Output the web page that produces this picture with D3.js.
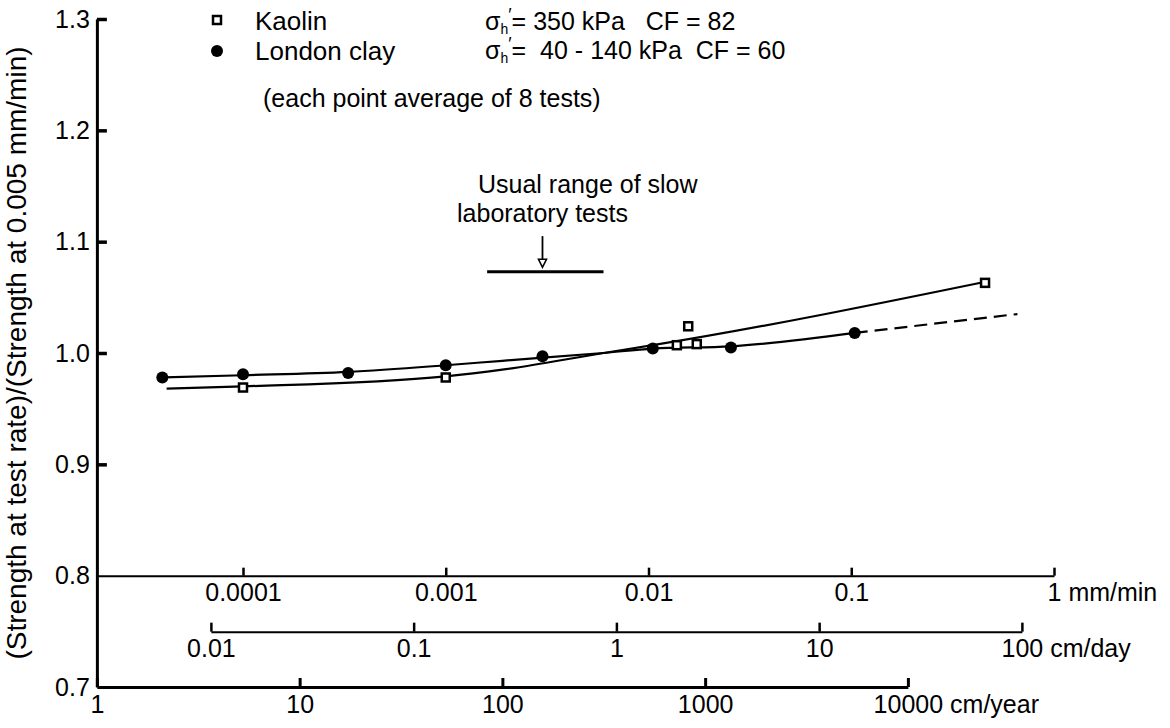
<!DOCTYPE html>
<html>
<head>
<meta charset="utf-8">
<script src="https://cdn.jsdelivr.net/npm/d3@7"></script>
<style>
  body { margin: 0; background: #fff; }
  svg text { font-family: "Liberation Sans", Arial, sans-serif; fill: #000; }
</style>
</head>
<body>
<svg id="chart" width="1170" height="728"></svg>
<script>
/* ---- data (rate in mm/min, ratio of strengths) ------------------------ */
const kaolinRate   = [1e-4, 1e-3, 0.0138, 0.0157, 0.0173, 0.457];
const kaolinRatio  = [0.969, 0.978, 1.007, 1.024, 1.008, 1.063];
const londonRate   = [4.0e-5, 1e-4, 3.3e-4, 1e-3, 3.0e-3, 0.0105, 0.0255, 0.104];
const londonRatio  = [0.978, 0.981, 0.982, 0.989, 0.997, 1.004, 1.005, 1.018];

// hand drawn trend lines
const kaolinFitRate  = [4.2e-5, 1e-4, 1e-3, 0.0019, 0.006, 0.0105, 0.46];
const kaolinFitRatio = [0.968, 0.970, 0.979, 0.985, 1.0, 1.007, 1.064];
const londonFitRate  = [4.0e-5, 1e-4, 3.3e-4, 1e-3, 0.0019, 0.006, 0.0105, 0.0255, 0.104];
const londonFitRatio = [0.978, 0.980, 0.983, 0.989, 0.993, 1.0, 1.004, 1.006, 1.018];
const londonExtRate  = [0.104, 0.66];
const londonExtRatio = [1.018, 1.035];

// usual range of slow laboratory tests
const slowRange  = [0.0016, 0.006];
const slowLevel  = 1.073;
const slowArrow  = {rate: 0.003, from: 1.105, to: 1.077};

// ticks
const yTicks    = [0.7, 0.8, 0.9, 1.0, 1.1, 1.2, 1.3];
const mmTicks   = [1e-4, 1e-3, 1e-2, 1e-1, 1];
const dayTicks  = [0.01, 0.1, 1, 10, 100];
const yearTicks = [1, 10, 100, 1000, 10000];

const CM_DAY  = 144;     // 1 mm/min = 144 cm/day
const CM_YEAR = 52560;   // 1 mm/min = 52560 cm/year

/* ---- scales ----------------------------------------------------------- */
const svg = d3.select('#chart');
const x = d3.scaleLog().domain([1e-4, 1]).range([243, 1054]);
const y = d3.scaleLinear().domain([0.7, 1.3]).range([687, 19]);

const xLeft = 1 / CM_YEAR;   // axis origin = 1 cm/year
const xmm   = x.copy().domain([xLeft, 1]).range([x(xLeft), x(1)]);
const xday  = d3.scaleLog().domain([0.01, 100]).range([x(0.01 / CM_DAY), x(100 / CM_DAY)]);
const xyear = d3.scaleLog().domain([1, 10000]).range([x(1 / CM_YEAR), x(10000 / CM_YEAR)]);

const FS = 25;

/* ---- axes ------------------------------------------------------------- */
function styleAxis(g, w) {
  g.attr('font-size', null).attr('font-family', null);
  g.selectAll('text').style('font-size', FS + 'px');
  g.select('.domain').attr('stroke-width', w);
  g.selectAll('.tick line').attr('stroke-width', 2.5);
}
function unitLabel(g, unit) {
  const t = g.selectAll('.tick text').filter((d, i, n) => i === n.length - 1);
  const w = t.node().getComputedTextLength();
  t.attr('text-anchor', 'start').attr('x', -w / 2).text(t.text() + ' ' + unit);
}

const gMm = svg.append('g').attr('transform', `translate(0,${y(0.8)})`)
  .call(d3.axisBottom(xmm).tickValues(mmTicks).tickFormat(String)
    .tickSizeInner(-8).tickSizeOuter(0).tickPadding(8));
styleAxis(gMm, 2);
unitLabel(gMm, 'mm/min');

const gDay = svg.append('g').attr('transform', `translate(0,${y(0.8) + 56})`)
  .call(d3.axisBottom(xday).tickValues(dayTicks).tickFormat(String)
    .tickSizeInner(-9).tickSizeOuter(0).tickPadding(8));
styleAxis(gDay, 2);
unitLabel(gDay, 'cm/day');

const gYear = svg.append('g').attr('transform', `translate(0,${y(0.7)})`)
  .call(d3.axisBottom(xyear).tickValues(yearTicks).tickFormat(String)
    .tickSizeInner(-9).tickSizeOuter(0).tickPadding(8));
styleAxis(gYear, 3);
gYear.selectAll('.tick line').attr('stroke-width', 3);
unitLabel(gYear, 'cm/year');

const gY = svg.append('g').attr('transform', `translate(${x(xLeft)},0)`)
  .call(d3.axisLeft(y).tickValues(yTicks).tickFormat(d3.format('.1f'))
    .tickSizeInner(-10).tickSizeOuter(0).tickPadding(7));
styleAxis(gY, 3);
gY.selectAll('.tick line').attr('stroke-width', 3.5).filter(d => d < 0.85).remove();

svg.append('text')
  .attr('transform', `translate(26,${(y(0.7) + y(1.3)) / 2}) rotate(-90)`)
  .attr('text-anchor', 'middle')
  .style('font-size', '28px')
  .text('(Strength at test rate)/(Strength at 0.005 mm/min)');

/* ---- trend lines ------------------------------------------------------ */
const line = d3.line().x(d => x(d[0])).y(d => y(d[1])).curve(d3.curveMonotoneX);
const plot = svg.append('g').attr('fill', 'none').attr('stroke', '#000').attr('stroke-width', 2.2);
plot.append('path').attr('d', line(d3.zip(kaolinFitRate, kaolinFitRatio)));
plot.append('path').attr('d', line(d3.zip(londonFitRate, londonFitRatio)));
plot.append('path').attr('d', line(d3.zip(londonExtRate, londonExtRatio)))
  .attr('stroke-dasharray', '13,7');

/* ---- points ----------------------------------------------------------- */
const SQ = 8;
svg.append('g').selectAll('circle')
  .data(d3.zip(londonRate, londonRatio)).join('circle')
    .attr('cx', d => x(d[0])).attr('cy', d => y(d[1])).attr('r', 6)
    .attr('fill', '#000');
svg.append('g').selectAll('rect')
  .data(d3.zip(kaolinRate, kaolinRatio)).join('rect')
    .attr('x', d => x(d[0]) - SQ / 2).attr('y', d => y(d[1]) - SQ / 2)
    .attr('width', SQ).attr('height', SQ)
    .attr('fill', '#fff').attr('stroke', '#000').attr('stroke-width', 2.5);

/* ---- slow test range -------------------------------------------------- */
svg.append('line')
  .attr('x1', x(slowRange[0])).attr('x2', x(slowRange[1]))
  .attr('y1', y(slowLevel)).attr('y2', y(slowLevel))
  .attr('stroke', '#000').attr('stroke-width', 3);
const ax = x(slowArrow.rate), ay0 = y(slowArrow.from), ay1 = y(slowArrow.to);
svg.append('line').attr('x1', ax).attr('x2', ax).attr('y1', ay0).attr('y2', ay1 - 4)
  .attr('stroke', '#000').attr('stroke-width', 1.8);
svg.append('path')
  .attr('d', `M${ax - 4},${ay1 - 8}L${ax + 4},${ay1 - 8}L${ax},${ay1}Z`)
  .attr('fill', '#fff').attr('stroke', '#000').attr('stroke-width', 1.6);

/* ---- legend & notes --------------------------------------------------- */
const notes = svg.append('g').style('font-size', '26px');
notes.append('rect').attr('x', 217 - SQ / 2).attr('y', 20 - SQ / 2)
  .attr('width', SQ).attr('height', SQ)
  .attr('fill', '#fff').attr('stroke', '#000').attr('stroke-width', 2.5);
notes.append('circle').attr('cx', 217).attr('cy', 51).attr('r', 6).attr('fill', '#000');
notes.append('text').attr('x', 255).attr('y', 30).text('Kaolin');
notes.append('text').attr('x', 255).attr('y', 60).text('London clay');

function sigma(yy, rest) {
  const t = notes.append('text').attr('x', 485).attr('y', yy)
    .style('font-size', '25px').style('white-space', 'pre');
  t.append('tspan').text('σ');
  t.append('tspan').attr('dy', 4).style('font-size', '14px').text('h');
  t.append('tspan').attr('dy', -13).style('font-size', '18px').text('′');
  t.append('tspan').attr('dy', 9).text(rest);
}
sigma(30, '= 350 kPa   CF = 82');
sigma(59, '=  40 - 140 kPa  CF = 60');

notes.append('text').attr('x', 263).attr('y', 107).style('font-size', '25px')
  .text('(each point average of 8 tests)');
notes.append('text').attr('x', 478).attr('y', 193).style('font-size', '25px')
  .text('Usual range of slow');
notes.append('text').attr('x', ax).attr('y', 222).attr('text-anchor', 'middle')
  .style('font-size', '25px').text('laboratory tests');
</script>
</body>
</html>
